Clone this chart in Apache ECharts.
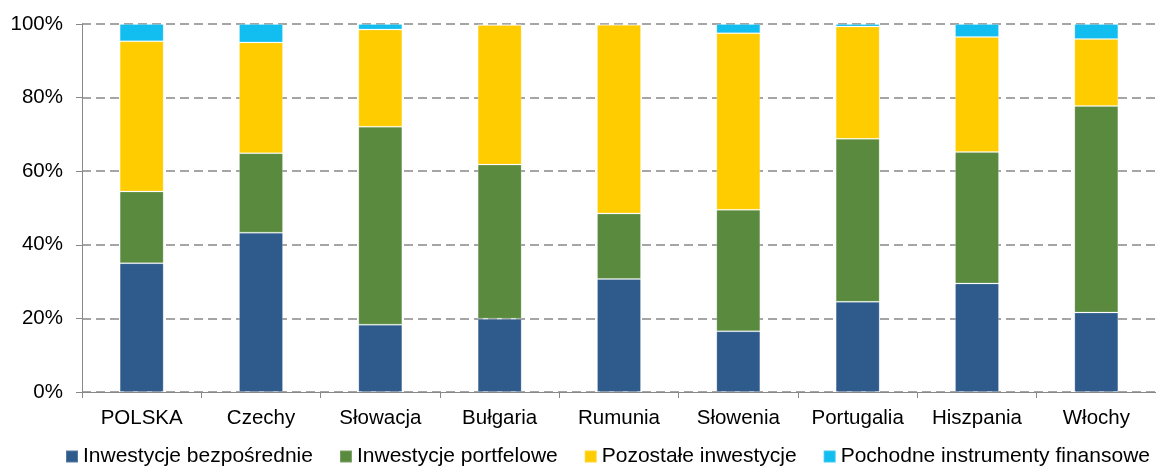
<!DOCTYPE html>
<html>
<head>
<meta charset="utf-8">
<script src="https://cdn.jsdelivr.net/npm/echarts@6/dist/echarts.min.js"></script>
<style>
html,body{margin:0;padding:0;background:#fff;}
#chart{width:1156px;height:466px;}
</style>
</head>
<body>
<div id="chart"></div>
<script>
const categories = ['POLSKA', 'Czechy', 'Słowacja', 'Bułgaria', 'Rumunia', 'Słowenia', 'Portugalia', 'Hiszpania', 'Włochy'];
const seriesNames = ['Inwestycje bezpośrednie', 'Inwestycje portfelowe', 'Pozostałe inwestycje', 'Pochodne instrumenty finansowe'];
const direct    = [35.0, 43.3, 18.3, 19.9, 30.7, 16.5, 24.5, 29.5, 21.6];
const portfolio = [19.5, 21.6, 53.8, 41.9, 17.8, 33.0, 44.3, 35.7, 56.1];
const other     = [40.8, 30.1, 26.4, 37.9, 51.3, 48.0, 30.5, 31.3, 18.2];
const deriv     = [4.7, 5.0, 1.5, 0.3, 0.2, 2.5, 0.7, 3.5, 4.1];
const yTicks = [0, 20, 40, 60, 80, 100];

const colors = ['#2E5A8C', '#5A8A3E', '#FFCC00', '#12BDEF'];
const values = [direct, portfolio, other, deriv];
const font = 'Liberation Sans, Arial, sans-serif';

const chart = echarts.init(document.getElementById('chart'));
chart.setOption({
  animation: false,
  color: colors,
  grid: { left: 82, top: 24, width: 1080, height: 368, containLabel: false },
  legend: {
    left: 60, top: 441,
    itemWidth: 12, itemHeight: 12, itemGap: 26,
    icon: 'rect',
    textStyle: { fontFamily: font, fontSize: 21, color: '#000' },
    data: seriesNames
  },
  xAxis: {
    type: 'category',
    data: categories,
    boundaryGap: true,
    axisLine: { lineStyle: { color: '#888', width: 1 } },
    axisTick: { show: true, length: 6, interval: 0, lineStyle: { color: '#888' } },
    axisLabel: { fontFamily: font, fontSize: 20.5, color: '#000', margin: 16, interval: 0 }
  },
  yAxis: {
    type: 'value',
    min: yTicks[0], max: yTicks[yTicks.length - 1], interval: 20,
    axisLine: { show: true, lineStyle: { color: '#888', width: 1 } },
    axisTick: { show: true, length: 6, lineStyle: { color: '#888' } },
    axisLabel: { fontFamily: font, fontSize: 20.5, color: '#000', margin: 19, formatter: '{value}%' },
    splitLine: { show: true, lineStyle: { color: '#888', width: 1.5, type: [9, 5] } }
  },
  series: seriesNames.map((name, i) => ({
    name: name,
    type: 'bar',
    stack: 'total',
    barWidth: 44,
    data: values[i],
    itemStyle: { color: colors[i], borderColor: 'rgba(255,255,255,0.2)', borderWidth: 1 }
  }))
});
</script>
</body>
</html>
